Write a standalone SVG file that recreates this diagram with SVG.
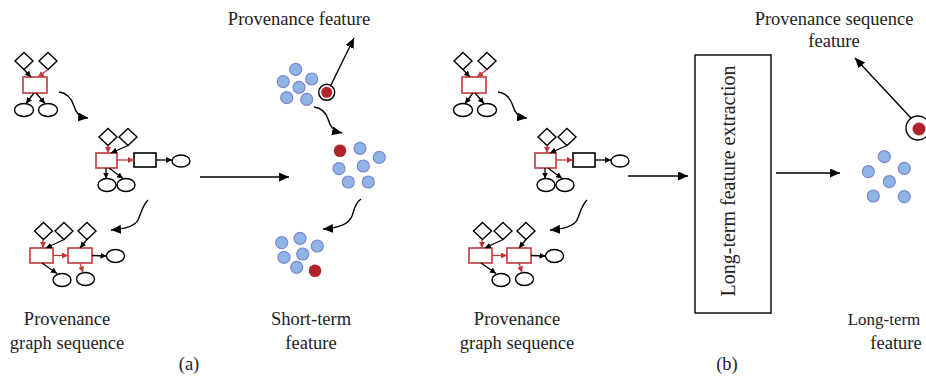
<svg xmlns="http://www.w3.org/2000/svg" width="926" height="383" viewBox="0 0 926 383">
<style>
.t{font-family:"Liberation Serif","Times New Roman",serif;font-size:18.5px;fill:#222;text-anchor:middle}
.dm{fill:#fff;stroke:#000;stroke-width:1.4}
.el{fill:#fff;stroke:#000;stroke-width:1.4}
.rr{fill:#fff;stroke:#c0393b;stroke-width:1.6}
.br{fill:#fff;stroke:#000;stroke-width:1.6}
.ka{stroke:#000;stroke-width:1.3;fill:none;marker-end:url(#sk)}
.ra{stroke:#c0393b;stroke-width:1.3;fill:none;marker-end:url(#sr)}
.bd{fill:#8fb5e6;stroke:#7c87cf;stroke-width:1.2}
.rd{fill:#b0232a}
.ring{fill:#fff;stroke:#000;stroke-width:1.4}
.big{stroke:#000;stroke-width:1.4;fill:none;marker-end:url(#bk)}
</style>
<defs>
<marker id="sk" markerUnits="userSpaceOnUse" markerWidth="7" markerHeight="7" refX="6" refY="3" orient="auto"><path d="M0,0 L6,3 L0,6 z" fill="#000"/></marker>
<marker id="sr" markerUnits="userSpaceOnUse" markerWidth="7" markerHeight="7" refX="6" refY="3" orient="auto"><path d="M0,0 L6,3 L0,6 z" fill="#c0393b"/></marker>
<marker id="bk" markerUnits="userSpaceOnUse" markerWidth="12" markerHeight="10" refX="10" refY="4.5" orient="auto"><path d="M0,0 L10,4.5 L0,9 z" fill="#000"/></marker>
</defs>

<!-- panel (a) graph sequence -->
<g id="graph-a1">
<polygon class="dm" points="24,52.5 33,61 24,69.5 15,61"/>
<polygon class="dm" points="48,52.5 57,61 48,69.5 39,61"/>
<rect class="rr" x="23" y="77" width="24" height="16"/>
<ellipse class="el" cx="24" cy="110" rx="9.5" ry="6.5"/>
<ellipse class="el" cx="48" cy="110" rx="9.5" ry="6.5"/>
<line class="ka" x1="24" y1="69.5" x2="31" y2="77"/>
<line class="ra" x1="48" y1="69.5" x2="38" y2="77"/>
<line class="ka" x1="34" y1="93" x2="26" y2="103.5"/>
<line class="ka" x1="36" y1="93" x2="45" y2="103.5"/>
</g>
<g id="graph-a2">
<polygon class="dm" points="108,128.5 117,137 108,145.5 99,137"/>
<polygon class="dm" points="128,128.5 137,137 128,145.5 119,137"/>
<rect class="rr" x="96" y="153" width="21" height="15"/>
<rect class="br" x="134" y="153" width="22" height="14"/>
<ellipse class="el" cx="181" cy="161" rx="9" ry="6"/>
<ellipse class="el" cx="107" cy="185" rx="9" ry="6.5"/>
<ellipse class="el" cx="126" cy="185" rx="9" ry="6.5"/>
<line class="ra" x1="108" y1="145.5" x2="108" y2="153"/>
<line class="ka" x1="128" y1="145.5" x2="111" y2="153"/>
<line class="ra" x1="117" y1="160" x2="134" y2="160"/>
<line class="ka" x1="156" y1="160" x2="172" y2="160"/>
<line class="ka" x1="106" y1="168" x2="106" y2="178.5"/>
<line class="ka" x1="109" y1="168" x2="123" y2="178.5"/>
</g>
<g id="graph-a3">
<polygon class="dm" points="43.5,222.5 52.5,231 43.5,239.5 34.5,231"/>
<polygon class="dm" points="64,222.5 73,231 64,239.5 55,231"/>
<polygon class="dm" points="87,222.5 96,231 87,239.5 78,231"/>
<rect class="rr" x="30" y="248" width="23" height="15"/>
<rect class="rr" x="68" y="248" width="24" height="15"/>
<ellipse class="el" cx="115.5" cy="256" rx="9" ry="6.5"/>
<ellipse class="el" cx="62" cy="280" rx="9" ry="6.5"/>
<ellipse class="el" cx="85.5" cy="279" rx="9" ry="6.5"/>
<line class="ra" x1="43" y1="239.5" x2="43" y2="248"/>
<line class="ka" x1="64" y1="239.5" x2="46" y2="248"/>
<line class="ka" x1="87" y1="239.5" x2="80" y2="248"/>
<line class="ra" x1="53" y1="255.5" x2="68" y2="255.5"/>
<line class="ka" x1="92" y1="255.5" x2="106.5" y2="256"/>
<line class="ka" x1="42" y1="263" x2="57" y2="273.5"/>
<line class="ra" x1="80" y1="263" x2="83" y2="272.5"/>
</g>

<!-- short-term feature clusters -->
<g id="cluster-a1">
<circle class="bd" cx="295.7" cy="69.3" r="6"/>
<circle class="bd" cx="311.7" cy="79" r="6"/>
<circle class="bd" cx="283.3" cy="81.7" r="6"/>
<circle class="bd" cx="299" cy="87.3" r="6"/>
<circle class="bd" cx="286.7" cy="97.7" r="6"/>
<circle class="bd" cx="306.7" cy="99.3" r="6"/>
<circle class="ring" cx="326.7" cy="92.3" r="8"/>
<circle class="rd" cx="326.7" cy="92.3" r="5.5"/>
</g>
<g id="cluster-a2">
<circle class="rd" cx="340" cy="150.7" r="6.3"/>
<circle class="bd" cx="360" cy="148.3" r="6"/>
<circle class="bd" cx="379.3" cy="157.3" r="6"/>
<circle class="bd" cx="339" cy="168.7" r="6"/>
<circle class="bd" cx="363.3" cy="166" r="6"/>
<circle class="bd" cx="348.3" cy="182" r="6"/>
<circle class="bd" cx="368.3" cy="182" r="6"/>
</g>
<g id="cluster-a3">
<circle class="bd" cx="281.7" cy="242.7" r="6"/>
<circle class="bd" cx="300" cy="238.3" r="6"/>
<circle class="bd" cx="317.3" cy="246" r="6"/>
<circle class="bd" cx="284" cy="257.3" r="6"/>
<circle class="bd" cx="302.7" cy="254" r="6"/>
<circle class="bd" cx="296.7" cy="267.3" r="6"/>
<circle class="rd" cx="315" cy="270.7" r="6.3"/>
</g>

<!-- panel (b) graph sequence -->
<g id="graph-b1" transform="translate(439,0)">
<polygon class="dm" points="24,52.5 33,61 24,69.5 15,61"/>
<polygon class="dm" points="48,52.5 57,61 48,69.5 39,61"/>
<rect class="rr" x="23" y="77" width="24" height="16"/>
<ellipse class="el" cx="24" cy="110" rx="9.5" ry="6.5"/>
<ellipse class="el" cx="48" cy="110" rx="9.5" ry="6.5"/>
<line class="ka" x1="24" y1="69.5" x2="31" y2="77"/>
<line class="ra" x1="48" y1="69.5" x2="38" y2="77"/>
<line class="ka" x1="34" y1="93" x2="26" y2="103.5"/>
<line class="ka" x1="36" y1="93" x2="45" y2="103.5"/>
</g>
<g id="graph-b2" transform="translate(439,0)">
<polygon class="dm" points="108,128.5 117,137 108,145.5 99,137"/>
<polygon class="dm" points="128,128.5 137,137 128,145.5 119,137"/>
<rect class="rr" x="96" y="153" width="21" height="15"/>
<rect class="br" x="134" y="153" width="22" height="14"/>
<ellipse class="el" cx="181" cy="161" rx="9" ry="6"/>
<ellipse class="el" cx="107" cy="185" rx="9" ry="6.5"/>
<ellipse class="el" cx="126" cy="185" rx="9" ry="6.5"/>
<line class="ra" x1="108" y1="145.5" x2="108" y2="153"/>
<line class="ka" x1="128" y1="145.5" x2="111" y2="153"/>
<line class="ra" x1="117" y1="160" x2="134" y2="160"/>
<line class="ka" x1="156" y1="160" x2="172" y2="160"/>
<line class="ka" x1="106" y1="168" x2="106" y2="178.5"/>
<line class="ka" x1="109" y1="168" x2="123" y2="178.5"/>
</g>
<g id="graph-b3" transform="translate(439,0)">
<polygon class="dm" points="43.5,222.5 52.5,231 43.5,239.5 34.5,231"/>
<polygon class="dm" points="64,222.5 73,231 64,239.5 55,231"/>
<polygon class="dm" points="87,222.5 96,231 87,239.5 78,231"/>
<rect class="rr" x="30" y="248" width="23" height="15"/>
<rect class="rr" x="68" y="248" width="24" height="15"/>
<ellipse class="el" cx="115.5" cy="256" rx="9" ry="6.5"/>
<ellipse class="el" cx="62" cy="280" rx="9" ry="6.5"/>
<ellipse class="el" cx="85.5" cy="279" rx="9" ry="6.5"/>
<line class="ra" x1="43" y1="239.5" x2="43" y2="248"/>
<line class="ka" x1="64" y1="239.5" x2="46" y2="248"/>
<line class="ka" x1="87" y1="239.5" x2="80" y2="248"/>
<line class="ra" x1="53" y1="255.5" x2="68" y2="255.5"/>
<line class="ka" x1="92" y1="255.5" x2="106.5" y2="256"/>
<line class="ka" x1="42" y1="263" x2="57" y2="273.5"/>
<line class="ra" x1="80" y1="263" x2="83" y2="272.5"/>
</g>

<g id="extractor">
<rect x="695" y="55" width="76" height="258" fill="#fff" stroke="#000" stroke-width="1.4"/>
<text class="t" transform="translate(735,181) rotate(-90)" style="font-size:20px">Long-term feature extraction</text>
</g>

<g id="cluster-b">
<circle class="bd" cx="884.3" cy="156.7" r="6"/>
<circle class="bd" cx="868.3" cy="171.7" r="6"/>
<circle class="bd" cx="904.3" cy="168.3" r="6"/>
<circle class="bd" cx="889.3" cy="181.7" r="6"/>
<circle class="bd" cx="873.3" cy="196" r="6"/>
<circle class="bd" cx="904.3" cy="196.7" r="6"/>
<circle class="ring" cx="918" cy="128" r="12"/>
<circle class="rd" cx="919" cy="129" r="6.5"/>
</g>

<g id="connectors">
<path class="big" d="M59,92 C68,93 72,100 74,106 C76,113 79,117 88,118"/>
<path class="big" d="M148,200 C142,206 141,214 138,220 C135,226 125,229 111,230"/>
<path class="big" d="M498,92 C507,93 511,100 513,106 C515,113 518,117 527,118"/>
<path class="big" d="M587,200 C581,206 580,214 577,220 C574,226 564,229 550,230"/>
<path class="big" d="M314,107 C322,108 326,113 328,119 C330,126 333,131 342,133"/>
<path class="big" d="M361,199 C355,203 354,210 352,216 C349,224 340,228 323,229"/>
<line class="big" x1="200" y1="177" x2="289" y2="177"/>
<line class="big" x1="331" y1="85" x2="354" y2="38"/>
<line class="big" x1="628" y1="176" x2="688" y2="176"/>
<line class="big" x1="776" y1="173" x2="840" y2="173"/>
<line class="big" x1="911" y1="118" x2="855" y2="58"/>
</g>

<g id="labels">
<text class="t" x="299" y="25">Provenance feature</text>
<text class="t" x="834" y="25">Provenance sequence</text>
<text class="t" x="834" y="47">feature</text>
<text class="t" x="67" y="325">Provenance</text>
<text class="t" x="67" y="349">graph sequence</text>
<text class="t" x="311" y="325">Short-term</text>
<text class="t" x="311" y="349">feature</text>
<text class="t" x="517" y="325">Provenance</text>
<text class="t" x="517" y="349">graph sequence</text>
<text class="t" x="884" y="325" style="font-size:17px">Long-term</text>
<text class="t" x="896" y="349">feature</text>
<text class="t" x="189" y="370">(a)</text>
<text class="t" x="727" y="370">(b)</text>
</g>
</svg>
